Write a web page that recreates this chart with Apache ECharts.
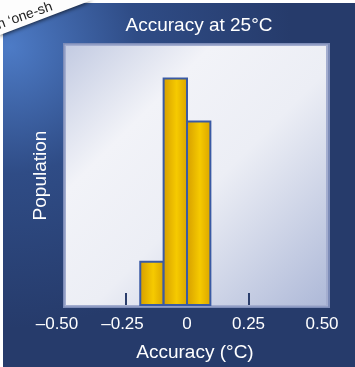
<!DOCTYPE html>
<html><head><meta charset="utf-8">
<script src="https://cdn.jsdelivr.net/npm/echarts@6/dist/echarts.min.js"></script>
<style>html,body{margin:0;padding:0;background:#fff}#c{width:355px;height:367px}</style>
</head><body><div id="c"></div>
<script>
var binStart = [-0.19, -0.095, 0];
var binEnd = [-0.095, 0, 0.095];
var population = [4, 21, 17];
var tickLabels = [-0.5, -0.25, 0, 0.25, 0.5];
var tickMarks = [-0.25, 0, 0.25];

var data = binStart.map(function (s, i) { return [s, binEnd[i], population[i]]; });
var labelText = { '-0.5': '{l|–0.50}', '-0.25': '{m|–0.25}', '0': '{c|0}', '0.25': '{c|0.25}', '0.5': '{r|0.50}' };
var tickFont = { color: '#fff', fontFamily: '"Liberation Sans Narrow","Liberation Sans",sans-serif', fontSize: 17 };

var chart = echarts.init(document.getElementById('c'), null, { renderer: 'canvas' });
chart.setOption({
  animation: false,
  backgroundColor: '#fff',
  graphic: [
    { type: 'rect', z: -10, shape: { x: 3, y: 3, width: 352, height: 364 },
      style: { fill: new echarts.graphic.RadialGradient(0.02, 0.12, 0.8, [
        { offset: 0, color: '#4d7bc6' }, { offset: 0.45, color: '#2f4c86' }, { offset: 1, color: '#263b6b' }]) } },
    { type: 'rect', z: -9, shape: { x: 63, y: 43, width: 267, height: 265 },
      style: { fill: '#7d8cb8' } },
    { type: 'rect', z: -9, shape: { x: 64.5, y: 44.5, width: 263.5, height: 262 },
      style: { fill: '#a3adcf' } },
    { type: 'rect', z: -8, shape: { x: 66, y: 46, width: 260, height: 259 },
      style: { fill: new echarts.graphic.LinearGradient(0, 0, 1, 1, [
        { offset: 0, color: '#c3cbe2' }, { offset: 0.28, color: '#f2f3f8' }, { offset: 0.55, color: '#eceef5' }, { offset: 1, color: '#aeb9d8' }]) } },
    { type: 'polygon', z: 50, shape: { points: [[0, 0], [92, 0], [0, 35]] },
      style: { fill: '#fdfdfd', shadowBlur: 4, shadowColor: 'rgba(0,0,0,0.75)', shadowOffsetY: 1 } },
    { type: 'text', z: 51, x: 0, y: 32, rotation: 0.34,
      style: { text: 'n ‘one-sh', fill: '#222', font: '14px "Liberation Sans", Arial, sans-serif', textVerticalAlign: 'bottom' } }
  ],
  title: {
    text: 'Accuracy at 25°C', left: 194, top: 11, textAlign: 'center',
    textStyle: { color: '#fff', fontFamily: '"Liberation Sans", Arial, sans-serif', fontSize: 19, fontWeight: 'normal' }
  },
  grid: { left: 64, right: 45, top: 46, bottom: 62 },
  xAxis: {
    type: 'value', min: -0.5, max: 0.5,
    name: 'Accuracy (°C)', nameLocation: 'middle', nameGap: 38,
    nameTextStyle: { color: '#fff', fontFamily: '"Liberation Sans", Arial, sans-serif', fontSize: 19, padding: [0, 0, 0, 16] },
    axisLine: { show: false },
    splitLine: { show: false },
    axisTick: { show: true, inside: true, length: 12, customValues: tickMarks, lineStyle: { color: '#2b3e6c', width: 2 } },
    axisLabel: {
      show: true, margin: 11, customValues: tickLabels,
      formatter: function (v) { return labelText[String(v)] || String(v); },
      rich: {
        l: Object.assign({ padding: [0, 14, 0, 0] }, tickFont),
        m: Object.assign({ padding: [0, 6, 0, 0] }, tickFont),
        c: Object.assign({}, tickFont),
        r: Object.assign({ padding: [0, 0, 0, 24] }, tickFont)
      }
    }
  },
  yAxis: {
    type: 'value', min: 0, max: 24,
    name: 'Population', nameLocation: 'middle', nameGap: 14,
    nameTextStyle: { color: '#fff', fontFamily: '"Liberation Sans", Arial, sans-serif', fontSize: 19 },
    axisLine: { show: false }, axisTick: { show: false }, axisLabel: { show: false }, splitLine: { show: false }
  },
  series: [{
    type: 'custom', z: 5,
    data: data,
    renderItem: function (params, api) {
      var s = api.coord([api.value(0), api.value(2)]);
      var e = api.coord([api.value(1), 0]);
      return {
        type: 'rect',
        shape: { x: s[0], y: s[1], width: e[0] - s[0], height: e[1] - s[1] },
        style: {
          fill: new echarts.graphic.LinearGradient(0, 0, 1, 0, [
            { offset: 0, color: '#d49c00' }, { offset: 0.55, color: '#f6ca00' }, { offset: 1, color: '#d9a300' }]),
          stroke: '#3a5aa4', lineWidth: 2
        }
      };
    }
  }]
});
</script></body></html>
